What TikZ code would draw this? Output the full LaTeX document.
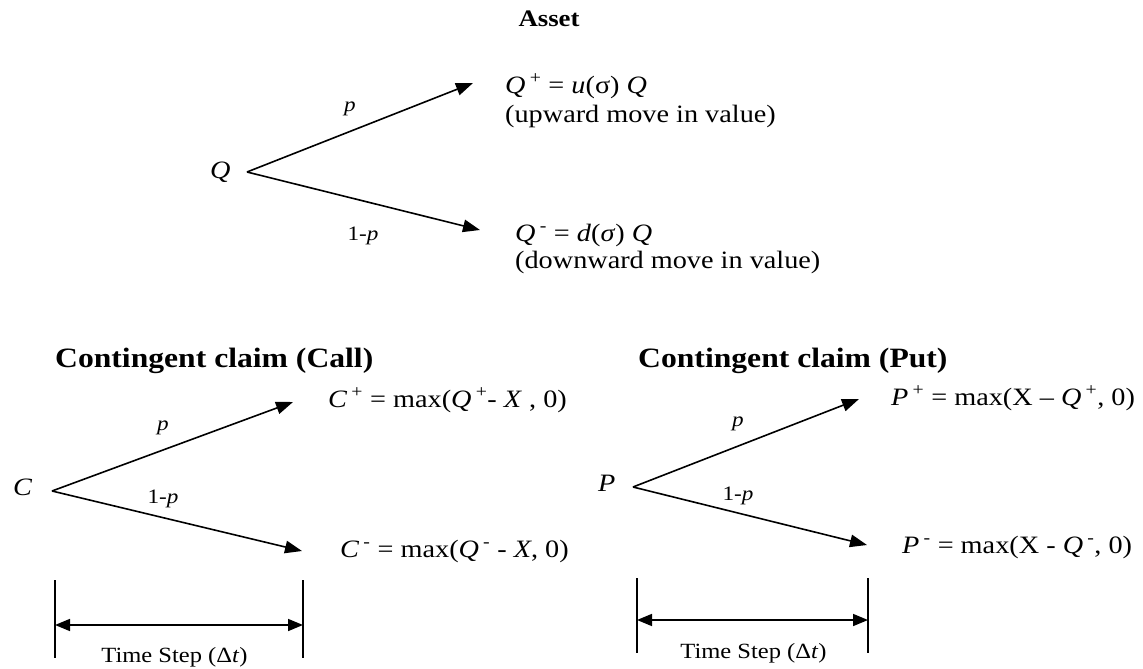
\documentclass[tikz,border=0pt]{standalone}
\usepackage{fontspec}
\setmainfont{Liberation Serif}[FakeStretch=1.13]
\usetikzlibrary{arrows.meta}
\newcommand{\mysup}[1]{\,\textsuperscript{#1}}
\begin{document}
\begin{tikzpicture}[x=1pt,y=-1pt,
  lbl/.style={inner sep=0pt, font=\fontsize{25}{29}\selectfont},
  plbl/.style={inner sep=0pt, font=\fontsize{20.5}{24}\selectfont},
  tlbl/.style={inner sep=0pt, font=\fontsize{21.7}{25}\selectfont},
  headbox/.style={inner sep=0pt, font=\fontsize{28}{33}\selectfont\bfseries},
  assethead/.style={inner sep=0pt, font=\fontsize{23.7}{28}\selectfont\bfseries},
  arr/.style={line width=1.6pt, -{Triangle[length=17pt,width=12.5pt]}},
  dbl/.style={line width=1.6pt, {Triangle[length=15pt,width=12pt]}-{Triangle[length=15pt,width=12pt]}},
  bar/.style={line width=1.8pt}]
\useasboundingbox (0,0) rectangle (1143,669);
% ---------- Asset ----------
\node[assethead, anchor=base] (asset) at (549,27) {Asset};
\node[lbl, anchor=base west] (Q) at (210,178) {\textit{Q}};
\coordinate (q0) at (247,172);
\coordinate (qu) at (473,83);
\coordinate (qd) at (480,230);
\draw[arr] (q0) -- (qu);
\draw[arr] (q0) -- (qd);
\node[plbl, anchor=base] (qp) at (350,111) {\textit{p}};
\node[plbl, anchor=base] (q1p) at (363,240) {1-\textit{p}};
\node[lbl, anchor=base west] (Qplus) at (505,93) {\textit{Q}\mysup{+} = \textit{u}(σ) \textit{Q}};
\node[lbl, anchor=base west] (Qplust) at (505,122) {(upward move in value)};
\node[lbl, anchor=base west] (Qminus) at (515,241) {\textit{Q}\mysup{-} = \textit{d}(\textit{σ}) \textit{Q}};
\node[lbl, anchor=base west] (Qminust) at (515,268) {(downward move in value)};
% ---------- Call ----------
\node[headbox, anchor=base west] (callhead) at (55,367) {Contingent claim (Call)};
\node[lbl, anchor=base west] (C) at (13,495) {\textit{C}};
\coordinate (c0) at (52,491);
\coordinate (cu) at (293,402);
\coordinate (cd) at (302,551);
\draw[arr] (c0) -- (cu);
\draw[arr] (c0) -- (cd);
\node[plbl, anchor=base] (cp) at (163,430) {\textit{p}};
\node[plbl, anchor=base] (c1p) at (163,503) {1-\textit{p}};
\node[lbl, anchor=base west] (Cplus) at (328,407) {\textit{C}\mysup{+} = max(\textit{Q}\mysup{+}- \textit{X} , 0)};
\node[lbl, anchor=base west] (Cminus) at (340,557) {\textit{C}\mysup{-} = max(\textit{Q}\mysup{-} - \textit{X}, 0)};
\coordinate (cb1t) at (55,580);
\coordinate (cb1b) at (55,658);
\coordinate (cb2t) at (303,580);
\coordinate (cb2b) at (303,658);
\draw[bar] (cb1t) -- (cb1b);
\draw[bar] (cb2t) -- (cb2b);
\coordinate (ca1) at (55,625);
\coordinate (ca2) at (303,625);
\draw[dbl] (ca1) -- (ca2);
\node[tlbl, anchor=base] (cts) at (174.5,662) {Time Step (Δ\textit{t})};
% ---------- Put ----------
\node[headbox, anchor=base west] (puthead) at (638,367) {Contingent claim (Put)};
\node[lbl, anchor=base west] (P) at (598,491) {\textit{P}};
\coordinate (p0) at (633,487);
\coordinate (pu) at (859,399);
\coordinate (pd) at (867,545);
\draw[arr] (p0) -- (pu);
\draw[arr] (p0) -- (pd);
\node[plbl, anchor=base] (pp) at (738,426) {\textit{p}};
\node[plbl, anchor=base] (p1p) at (738,500) {1-\textit{p}};
\node[lbl, anchor=base west] (Pplus) at (891,405) {\textit{P}\mysup{+} = max(X – \textit{Q}\mysup{+}, 0)};
\node[lbl, anchor=base west] (Pminus) at (902,553) {\textit{P}\mysup{-} = max(X - \textit{Q}\mysup{-}, 0)};
\coordinate (pb1t) at (637,578);
\coordinate (pb1b) at (637,653);
\coordinate (pb2t) at (868,578);
\coordinate (pb2b) at (868,653);
\draw[bar] (pb1t) -- (pb1b);
\draw[bar] (pb2t) -- (pb2b);
\coordinate (pa1) at (637,620);
\coordinate (pa2) at (868,620);
\draw[dbl] (pa1) -- (pa2);
\node[tlbl, anchor=base] (pts) at (753.5,658) {Time Step (Δ\textit{t})};
\end{tikzpicture}
\end{document}
